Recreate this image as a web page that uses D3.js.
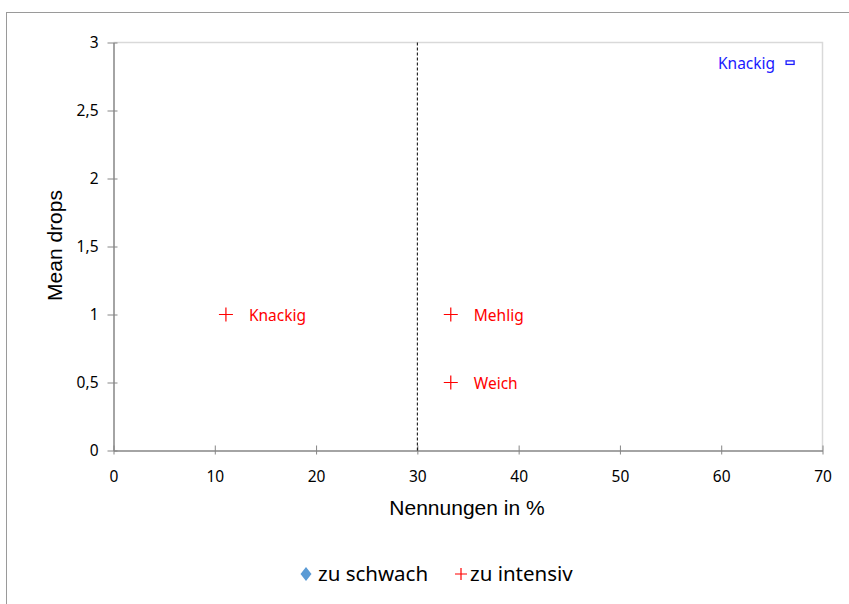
<!DOCTYPE html>
<html>
<head>
<meta charset="utf-8">
<script src="https://cdn.jsdelivr.net/npm/d3@7"></script>
<style>
  body { margin: 0; background: white; }
</style>
</head>
<body>
<div id="container"></div>
<script>
let w = 849;
let h = 604;

// data
let xTicks = [0, 10, 20, 30, 40, 50, 60, 70];
let yTicks = [0, 0.5, 1, 1.5, 2, 2.5, 3];
let threshold = 30;

// "zu intensiv" points (red crosses)
let intensivLabels = ["Knackig", "Mehlig", "Weich"];
let intensivX = [11.1, 33.3, 33.3];
let intensivY = [1, 1, 0.5];

// blue point top right
let blueLabels = ["Knackig"];
let blueX = [66.8];
let blueY = [2.85];

let legendNames = ["zu schwach", "zu intensiv"];

let tickFont = "'Noto Sans', 'Open Sans', sans-serif";
let titleFont = "'Liberation Sans', Arial, sans-serif";

let viz = d3.select("#container")
  .append("svg")
    .attr("width", w)
    .attr("height", h)
    .style("background-color", "white")
;

// outer chart border
viz.append("rect")
  .attr("x", 6.5)
  .attr("y", 12.5)
  .attr("width", 900)
  .attr("height", 700)
  .attr("fill", "none")
  .attr("stroke", "#9a9a9a")
  .attr("stroke-width", 1);

let xScale = d3.scaleLinear().domain([0, 70]).range([113.5, 822.5]);
let yScale = d3.scaleLinear().domain([0, 3]).range([450.5, 42.5]);

// plot area border (top and right, light)
viz.append("path")
  .attr("d", "M" + xScale(0) + "," + yScale(3) + "H" + xScale(70) + "V" + yScale(0))
  .attr("fill", "none")
  .attr("stroke", "#d9d9d9")
  .attr("stroke-width", 1.5);

// X axis
let xAxisGroup = viz.append("g").attr("class", "xaxis")
  .attr("transform", "translate(0," + yScale(0) + ")");
xAxisGroup.call(d3.axisBottom(xScale).tickValues(xTicks).tickSizeOuter(0));
xAxisGroup.select(".domain").attr("stroke", "#868686").attr("stroke-width", 1.5);
xAxisGroup.selectAll(".tick line").attr("stroke", "#868686").attr("y1", -5).attr("y2", 4);
xAxisGroup.selectAll(".tick text")
  .attr("y", 20)
  .attr("fill", "#000")
  .style("font-family", tickFont)
  .style("font-size", "15.5px");

// Y axis
let yAxisGroup = viz.append("g").attr("class", "yaxis")
  .attr("transform", "translate(" + xScale(0) + ",0)");
yAxisGroup.call(d3.axisLeft(yScale).tickValues(yTicks).tickSizeOuter(0)
  .tickFormat(function(d){ return String(d).replace(".", ","); }));
yAxisGroup.select(".domain").attr("stroke", "#868686").attr("stroke-width", 1.5);
yAxisGroup.selectAll(".tick line").attr("stroke", "#868686").attr("x1", -6).attr("x2", 4);
yAxisGroup.selectAll(".tick text")
  .attr("x", -15)
  .attr("fill", "#000")
  .style("font-family", tickFont)
  .style("font-size", "15.5px");

// dashed threshold line
viz.append("line")
  .attr("x1", xScale(threshold))
  .attr("x2", xScale(threshold))
  .attr("y1", yScale(3))
  .attr("y2", yScale(0))
  .attr("stroke", "#000")
  .attr("stroke-width", 1)
  .attr("stroke-dasharray", "3,2");

// axis titles
viz.append("text")
  .attr("x", 467)
  .attr("y", 515)
  .attr("text-anchor", "middle")
  .style("font-family", titleFont)
  .style("font-size", "21px")
  .text("Nennungen in %");

viz.append("text")
  .attr("transform", "translate(62," + (yScale(1.5) - 1) + ") rotate(-90)")
  .attr("text-anchor", "middle")
  .style("font-family", titleFont)
  .style("font-size", "21px")
  .text("Mean drops");

// red crosses
let intensiv = intensivLabels.map(function(l, i){
  return {label: l, x: intensivX[i], y: intensivY[i]};
});

let redGroups = viz.selectAll(".intensiv").data(intensiv).enter()
  .append("g")
    .attr("class", "intensiv")
    .attr("transform", function(d){ return "translate(" + xScale(d.x) + "," + yScale(d.y) + ")"; });

redGroups.append("path")
  .attr("d", "M-7,0H7M0,-7V7")
  .attr("stroke", "#ff0000")
  .attr("stroke-width", 1.2)
  .attr("fill", "none");

redGroups.append("text")
  .attr("x", 23)
  .attr("y", 6)
  .attr("fill", "#ff0000")
  .style("font-family", tickFont)
  .style("font-size", "15.5px")
  .text(function(d){ return d.label; });

// blue point
let blue = blueLabels.map(function(l, i){
  return {label: l, x: blueX[i], y: blueY[i]};
});

let blueGroups = viz.selectAll(".blue").data(blue).enter()
  .append("g")
    .attr("class", "blue")
    .attr("transform", function(d){ return "translate(" + xScale(d.x) + "," + yScale(d.y) + ")"; });

blueGroups.append("rect")
  .attr("x", -4)
  .attr("y", -2)
  .attr("width", 8)
  .attr("height", 3.5)
  .attr("fill", "none")
  .attr("stroke", "#1a1aff")
  .attr("stroke-width", 1.3);

blueGroups.append("text")
  .attr("x", -15)
  .attr("y", 6)
  .attr("text-anchor", "end")
  .attr("fill", "#1a1aff")
  .style("font-family", tickFont)
  .style("font-size", "15.5px")
  .text(function(d){ return d.label; });

// legend
let legend = viz.append("g").attr("class", "legend");
legend.append("path")
  .attr("d", "M0,-7L5.5,0L0,7L-5.5,0Z")
  .attr("transform", "translate(306,574)")
  .attr("fill", "#5b9bd5");
legend.append("text")
  .attr("x", 318)
  .attr("y", 581)
  .style("font-family", tickFont)
  .style("font-size", "20.5px")
  .text(legendNames[0]);

legend.append("path")
  .attr("d", "M-6,0H6M0,-6V6")
  .attr("transform", "translate(461,574)")
  .attr("stroke", "#ff0000")
  .attr("stroke-width", 1.2);
legend.append("text")
  .attr("x", 470)
  .attr("y", 581)
  .style("font-family", tickFont)
  .style("font-size", "20.5px")
  .text(legendNames[1]);
</script>
</body>
</html>
